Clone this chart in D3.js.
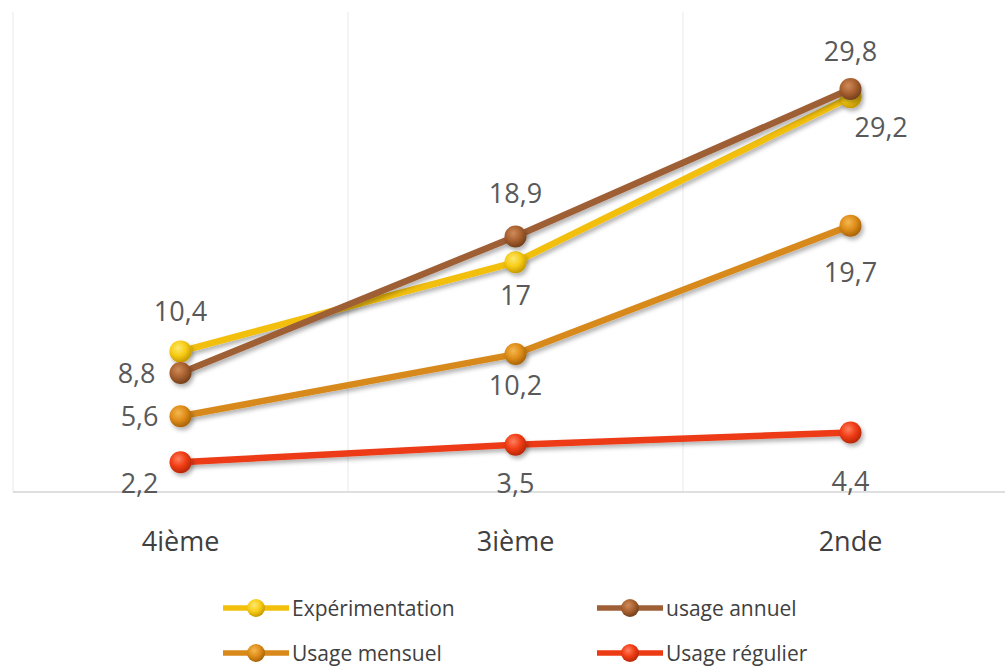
<!DOCTYPE html>
<html><head><meta charset="utf-8">
<script src="https://cdn.jsdelivr.net/npm/d3@7"></script>
<style>body{margin:0;background:#fff}svg{display:block}</style>
</head><body>
<svg id="c" width="1005" height="671"></svg>
<script>
const categories = ["4ième", "3ième", "2nde"];
const seriesNames = ["Expérimentation", "usage annuel", "Usage mensuel", "Usage régulier"];
const experimentation = [10.4, 17, 29.2];
const usageAnnuel = [8.8, 18.9, 29.8];
const usageMensuel = [5.6, 10.2, 19.7];
const usageRegulier = [2.2, 3.5, 4.4];
const valueLabels = [["10,4", "17", "29,2"], ["8,8", "18,9", "29,8"], ["5,6", "10,2", "19,7"], ["2,2", "3,5", "4,4"]];

const seriesValues = [experimentation, usageAnnuel, usageMensuel, usageRegulier];
const lineColors = ["#f2bf0c", "#9e5f36", "#d8891a", "#ec3a14"];
const markerLight = ["#fde870", "#d08a5a", "#f5b850", "#ff8060"];
const markerMid = ["#f7cc14", "#a8602f", "#de8c18", "#f03c14"];
const markerDark = ["#c89a00", "#74401c", "#a86408", "#b8280a"];
// label placement: [dx, dy(baseline), anchor]
const labelPos = [
  [[0, -30, "middle"], [0, 43, "middle"], [4, 40, "start"]],
  [[-25, 10, "end"], [0, -33, "middle"], [0, -28, "middle"]],
  [[-22, 10, "end"], [0, 41, "middle"], [0, 56, "middle"]],
  [[-22, 31, "end"], [0, 48, "middle"], [0, 58, "middle"]]
];

const svg = d3.select("#c");
const defs = svg.append("defs");
const sh = defs.append("filter").attr("id", "sh").attr("filterUnits", "userSpaceOnUse")
  .attr("x", 0).attr("y", 0).attr("width", 1005).attr("height", 671);
sh.append("feDropShadow").attr("dx", 2).attr("dy", 3).attr("stdDeviation", 2).attr("flood-color", "#000").attr("flood-opacity", 0.3);
seriesNames.forEach((n, i) => {
  const g = defs.append("radialGradient").attr("id", "mg" + i).attr("cx", "40%").attr("cy", "35%").attr("r", "65%");
  g.append("stop").attr("offset", "0%").attr("stop-color", markerLight[i]);
  g.append("stop").attr("offset", "55%").attr("stop-color", markerMid[i]);
  g.append("stop").attr("offset", "100%").attr("stop-color", markerDark[i]);
});

const x = d3.scaleBand().domain(categories).range([13, 1018]).padding(0);
const cx = c => x(c) + x.bandwidth() / 2;
const y = d3.scaleLinear().domain([0, 35.5]).range([492, 12]);

// vertical gridlines at band boundaries
const bounds = categories.map(c => x(c)).concat([x(categories[categories.length - 1]) + x.bandwidth()]);
svg.append("g").selectAll("line").data(bounds).join("line")
  .attr("x1", d => d).attr("x2", d => d).attr("y1", y.range()[1]).attr("y2", y(0))
  .attr("stroke", "#ececec").attr("stroke-width", 1.2);

// x axis
const xAxis = svg.append("g").attr("transform", `translate(0,${y(0)})`)
  .call(d3.axisBottom(x).tickSize(0).tickPadding(40));
xAxis.select(".domain").remove();
xAxis.append("line").attr("x1", 13).attr("x2", 1005).attr("stroke", "#d4d4d4").attr("stroke-width", 1.5);
xAxis.selectAll(".tick text").attr("font-family", "Open Sans, sans-serif").attr("font-size", 27).attr("fill", "#404040");

const line = d3.line().x((d, i) => cx(categories[i])).y(d => y(d));
seriesValues.forEach((vals, s) => {
  const g = svg.append("g");
  g.append("path").datum(vals).attr("d", line).attr("fill", "none")
    .attr("stroke", lineColors[s]).attr("stroke-width", 6.5).attr("stroke-linejoin", "round").attr("filter", "url(#sh)");
  g.selectAll("circle").data(vals).join("circle")
    .attr("cx", (d, i) => cx(categories[i])).attr("cy", d => y(d)).attr("r", 11)
    .attr("fill", `url(#mg${s})`).attr("filter", "url(#sh)");
});
seriesValues.forEach((vals, s) => {
  svg.append("g").selectAll("text").data(vals).join("text")
    .attr("x", (d, i) => cx(categories[i]) + labelPos[s][i][0])
    .attr("y", (d, i) => y(d) + labelPos[s][i][1])
    .attr("text-anchor", (d, i) => labelPos[s][i][2])
    .attr("font-family", "Open Sans, sans-serif").attr("font-size", 27).attr("fill", "#595959")
    .text((d, i) => valueLabels[s][i]);
});

// legend
const legPos = [[256, 608], [630, 608], [256, 653], [630, 653]];
seriesNames.forEach((n, s) => {
  const [lx, ly] = legPos[s];
  const g = svg.append("g").attr("transform", `translate(${lx},${ly})`);
  g.append("line").attr("x1", -33).attr("x2", 33).attr("stroke", lineColors[s]).attr("stroke-width", 5.5);
  g.append("circle").attr("r", 9).attr("fill", `url(#mg${s})`);
  g.append("text").attr("x", 36).attr("y", 8).attr("font-family", "Open Sans, sans-serif").attr("font-size", 21).attr("fill", "#404040").text(n);
});
</script>
</body></html>
